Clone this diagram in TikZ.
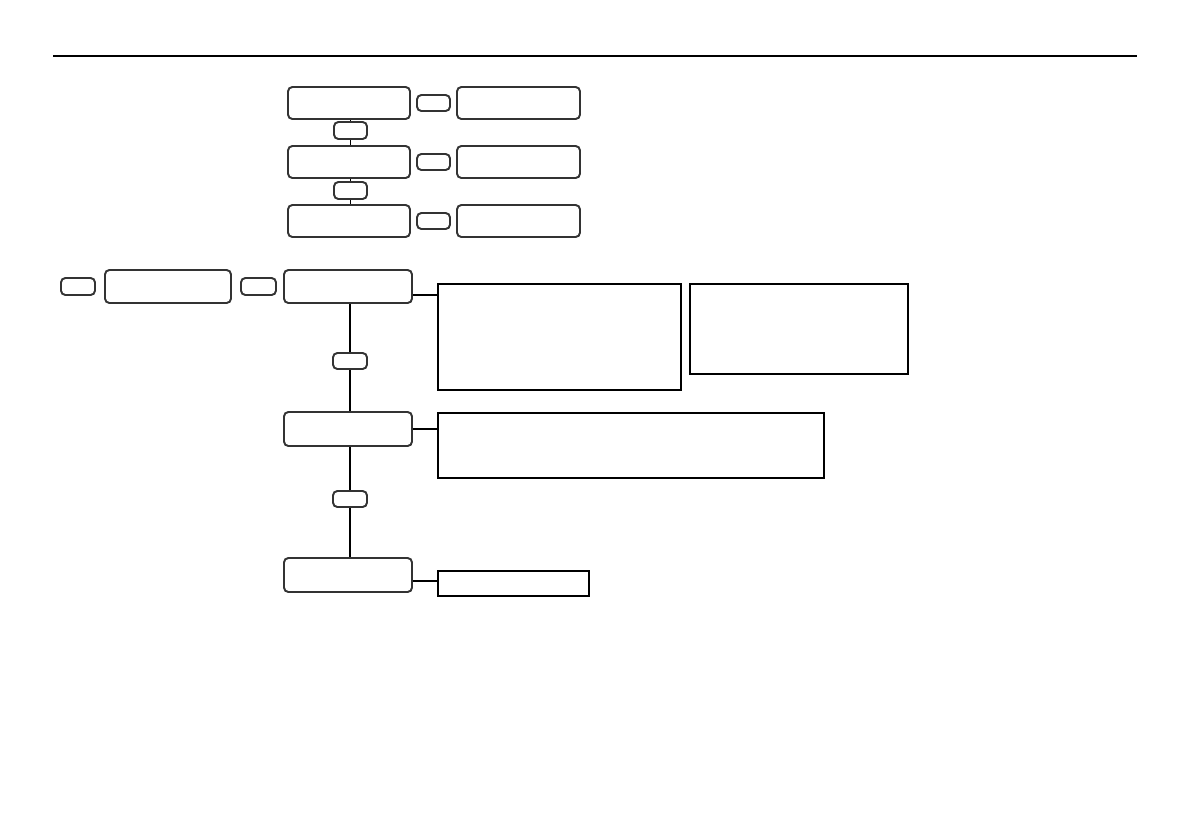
\documentclass[tikz,border=0pt]{standalone}
\usetikzlibrary{fit}
\begin{document}
\begin{tikzpicture}[x=0.02cm,y=-0.02cm,
  rbox/.style={draw=black!80,line width=1.1pt,rounded corners=2.5pt,inner sep=0pt},
  pbox/.style={draw=black,line width=0.8pt,inner sep=0pt},
  conn/.style={draw=black,line width=0.7pt}]
\useasboundingbox (0,0) rectangle (1191,839);
\draw[line width=0.8pt] (53,56) coordinate (hl) -- (1137,56) coordinate (hr);
% top column
\node[rbox,fit={(288,87) (410,119)}] (a1) {};
\node[rbox,fit={(288,146) (410,178)}] (a2) {};
\node[rbox,fit={(288,205) (410,237)}] (a3) {};
\node[rbox,fit={(457,87) (580,119)}] (b1) {};
\node[rbox,fit={(457,146) (580,178)}] (b2) {};
\node[rbox,fit={(457,205) (580,237)}] (b3) {};
\node[rbox,fit={(417,95) (450,111)}] (h1) {};
\node[rbox,fit={(417,154) (450,170)}] (h2) {};
\node[rbox,fit={(417,213) (450,229)}] (h3) {};
\node[rbox,fit={(334,122) (367,139)}] (v1) {};
\node[rbox,fit={(334,182) (367,199)}] (v2) {};
\draw[conn] (v1.north) -- (v1.north |- a1.south);
\draw[conn] (v1.south) -- (v1.south |- a2.north);
\draw[conn] (v2.north) -- (v2.north |- a2.south);
\draw[conn] (v2.south) -- (v2.south |- a3.north);
% lower section
\node[rbox,fit={(61,278) (95,295)}] (s0) {};
\node[rbox,fit={(105,270) (231,303)}] (c0) {};
\node[rbox,fit={(241,278) (276,295)}] (s1) {};
\node[rbox,fit={(284,270) (412,303)}] (c1) {};
\node[rbox,fit={(284,412) (412,446)}] (c2) {};
\node[rbox,fit={(284,558) (412,592)}] (c3) {};
\node[rbox,fit={(333,353) (367,369)}] (v3) {};
\node[rbox,fit={(333,491) (367,507)}] (v4) {};
\node[pbox,fit={(438,284) (681,390)}] (r1) {};
\node[pbox,fit={(690,284) (908,374)}] (r2) {};
\node[pbox,fit={(438,413) (824,478)}] (r3) {};
\node[pbox,fit={(438,571) (589,596)}] (r4) {};
\draw[conn] (v3.north) -- (v3.north |- c1.south);
\draw[conn] (v3.south) -- (v3.south |- c2.north);
\draw[conn] (v4.north) -- (v4.north |- c2.south);
\draw[conn] (v4.south) -- (v4.south |- c3.north);
\draw[conn] (c1.east |- 0,295) -- (r1.west |- 0,295);
\draw[conn] (c2.east) -- (c2.east -| r3.west);
\draw[conn] (c3.east |- 0,581) -- (r4.west |- 0,581);
\end{tikzpicture}
\end{document}
